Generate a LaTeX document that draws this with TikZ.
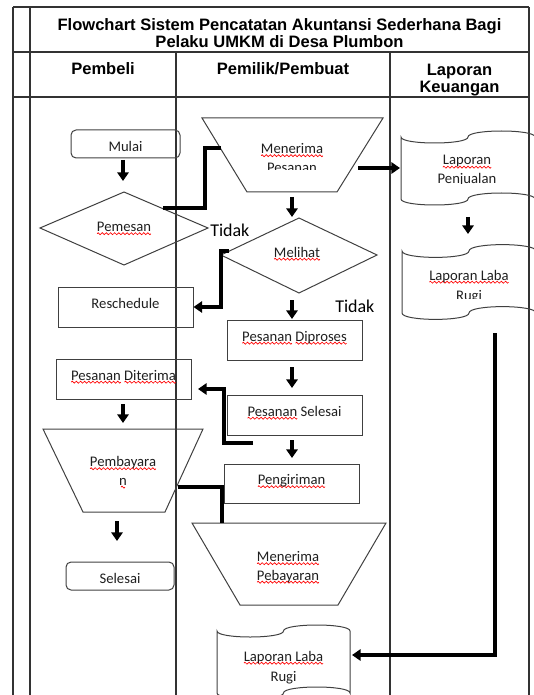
\documentclass[tikz,border=0pt]{standalone}
\usepackage{fontspec}
\setmainfont{Carlito}
\newfontfamily\hdrfont{Liberation Sans}
\usetikzlibrary{arrows.meta}
\newsavebox\wavebox
\newsavebox\wordbox
\AtBeginDocument{\sbox\wavebox{\begin{pgfpicture}%
\pgfpathrectangle{\pgfpoint{0pt}{-0.75pt}}{\pgfpoint{3pt}{1.5pt}}\pgfusepath{use as bounding box}%
\pgfsetlinewidth{0.5pt}\pgfsetstrokecolor{red}%
\pgfpathmoveto{\pgfpointorigin}%
\pgfpathsine{\pgfpoint{0.75pt}{0.75pt}}\pgfpathcosine{\pgfpoint{0.75pt}{-0.75pt}}%
\pgfpathsine{\pgfpoint{0.75pt}{-0.75pt}}\pgfpathcosine{\pgfpoint{0.75pt}{0.75pt}}%
\pgfusepath{stroke}\end{pgfpicture}}}
\newcommand\sq[1]{\sbox\wordbox{#1}\leavevmode\rlap{\lower2.4pt\hbox to\wd\wordbox{\xleaders\copy\wavebox\hfil}}\usebox\wordbox}
\newcommand\bodyfont{\fontsize{11pt}{14.25pt}\selectfont\color{black!88}}
\begin{document}
\begin{tikzpicture}[x=0.75pt,y=-0.75pt,
  tbl/.style={line width=0.9pt,draw=black!80},
  shp/.style={draw=black!75,line width=0.75pt,line join=miter},
  conn/.style={line width=2.3pt,draw=black},
  arr/.style={conn,-{Triangle[length=6.5pt,width=8.5pt]}},
  box/.style={shp,inner sep=0pt,minimum width=101.25pt,minimum height=30pt,text height=6.5pt,text depth=5pt,font=\bodyfont},
  term/.style={shp,rounded corners=3.75pt,inner sep=0pt,minimum height=21pt,text height=13pt,text depth=1.5pt,font=\bodyfont},
  lbl/.style={inner sep=0pt,anchor=base,font=\bodyfont},
  hdr/.style={inner sep=0pt,font=\hdrfont\bfseries\fontsize{12.4pt}{12.75pt}\selectfont,align=center},
  tid/.style={inner sep=0pt,anchor=base west,font=\fontsize{13.5pt}{16pt}\selectfont}
]
\useasboundingbox (0,0) rectangle (534,695);
\clip (0,0) rectangle (534,695);

% table
\draw[tbl] (13,7) -- (529,7);
\draw[tbl] (13,52) -- (529,52);
\draw[tbl] (13,97) -- (529,97);
\draw[tbl] (13,7) -- (13,700);
\draw[tbl] (30,7) -- (30,700);
\draw[tbl] (529,7) -- (529,700);
\draw[tbl] (176,52) -- (176,700);
\draw[tbl] (390,52) -- (390,700);

\node[hdr] (title) at (279.5,33) {Flowchart Sistem Pencatatan Akuntansi Sederhana Bagi\\Pelaku UMKM di Desa Plumbon};
\node[hdr,anchor=base] (hPembeli) at (103,75) {Pembeli};
\node[hdr,anchor=base] (hPemilik) at (283,75) {Pemilik/Pembuat};
\node[hdr] (hLaporan) at (459.5,79.6) {Laporan\\Keuangan};

% Pembeli lane
\node[term,minimum width=81.75pt] (mulai) at (125.5,144) {Mulai};
\draw[shp] (40,228) coordinate (pemW) -- (124,192) coordinate (pemN) -- (208,228) coordinate (pemE) -- (124,265) coordinate (pemS) -- cycle;
\node[lbl] (pemT) at (124,231.5) {\sq{Pemesan}};
\node[tid] (tidak1) at (210,236) {Tidak};
\node[box] (resch) at (125.5,307) {Reschedule};
\node[box] (diter) at (123.5,379) {\sq{Pesanan} \sq{Diterima}};
\draw[shp] (43,429) -- (203,429) -- (165,512) -- (83,512) -- cycle;
\node[lbl] (pbA) at (123,466.5) {\sq{Pembayara}};
\node[lbl] (pbB) at (123,485) {\sq{n}};
\node[term,minimum width=81pt] (selesai) at (120,576) {Selesai};

% Pemilik lane
\draw[shp] (202,118) -- (383,118) -- (337,192) -- (247,192) -- cycle;
\node[lbl] (mpA) at (292,153.5) {\sq{Menerima}};
\begin{scope}
\clip (200,110) rectangle (390,170);
\node[lbl] (mpB) at (292,172.5) {Pesanan};
\end{scope}
\draw[shp] (221,255) -- (299,218) -- (377,255) -- (299,293) -- cycle;
\node[lbl] (melT) at (297,257) {\sq{Melihat}};
\node[tid] (tidak2) at (335,312.5) {Tidak};
\node[box] (dipro) at (294.5,340) {\sq{Pesanan} \sq{Diproses}};
\node[box] (psel) at (294.5,415) {\sq{Pesanan} Selesai};
\node[box,minimum height=29.25pt] (kirim) at (291.5,483.5) {\sq{Pengiriman}};
\draw[shp] (192,523) -- (386,523) -- (338,605) -- (240,605) -- cycle;
\node[lbl] (mbA) at (288,561.5) {\sq{Menerima}};
\node[lbl] (mbB) at (288,580) {\sq{Pebayaran}};
\draw[shp] (217,631) .. controls (217,639) and (283.5,639) .. (283.5,631) .. controls (283.5,623) and (350,623) .. (350,631) -- (350,693) .. controls (350,685) and (283.5,685) .. (283.5,693) .. controls (283.5,701) and (217,701) .. (217,693) -- cycle;
\node[lbl] (lbA) at (283.5,661) {\sq{Laporan Laba}};
\node[lbl] (lbB) at (283.5,681) {Rugi};

% Laporan lane
\draw[shp] (401,137) .. controls (401,145) and (468,145) .. (468,137) .. controls (468,129) and (535,129) .. (535,137) -- (535,199) .. controls (535,191) and (468,191) .. (468,199) .. controls (468,207) and (401,207) .. (401,199) -- cycle;
\node[lbl] (lpA) at (467,165) {\sq{Laporan}};
\begin{scope}
\clip (395,120) rectangle (540,183.5);
\node[lbl] (lpB) at (467,184) {Penjualan};
\end{scope}
\draw[shp] (402,251) .. controls (402,259.5) and (469,259.5) .. (469,251) .. controls (469,242.5) and (536,242.5) .. (536,251) -- (536,313) .. controls (536,304.5) and (469,304.5) .. (469,313) .. controls (469,321.5) and (402,321.5) .. (402,313) -- cycle;
\node[lbl] (lrA) at (469,280) {\sq{Laporan Laba}};
\begin{scope}
\clip (395,240) rectangle (540,298);
\node[lbl] (lrB) at (469,300.5) {Rugi};
\end{scope}

% short arrows
\coordinate (a1s) at (123,160); \coordinate (a1e) at (123,181);
\coordinate (a2s) at (292,197); \coordinate (a2e) at (292,217);
\coordinate (a3s) at (292,300); \coordinate (a3e) at (292,319);
\coordinate (a4s) at (292,367); \coordinate (a4e) at (292,388);
\coordinate (a5s) at (292,440); \coordinate (a5e) at (292,458);
\coordinate (a6s) at (123,404); \coordinate (a6e) at (123,423);
\coordinate (a7s) at (117,521); \coordinate (a7e) at (117,541);
\coordinate (a8s) at (468,217); \coordinate (a8e) at (468,234);
\foreach \i in {1,...,8} {\draw[arr] (a\i s) -- (a\i e);}

% connectors
\coordinate (c1s) at (163,208); \coordinate (c1e) at (221,148);
\draw[conn] (c1s) -- (205,208) |- (c1e);
\coordinate (c2s) at (358,168); \coordinate (c2e) at (400,168);
\draw[arr] (c2s) -- (c2e);
\coordinate (c3s) at (229,251);
\draw[arr] (c3s) -- (221,251) |- (resch.east);
\coordinate (c4s) at (253,443); \coordinate (c4e) at (198,389);
\draw[arr] (c4s) -- (224,443) |- (c4e);
\coordinate (c5s) at (178,487); \coordinate (c5e) at (222,523);
\draw[conn] (c5s) -| (c5e);
\coordinate (c6s) at (495,333); \coordinate (c6e) at (352,655);
\draw[arr] (c6s) |- (c6e);
\end{tikzpicture}
\end{document}
